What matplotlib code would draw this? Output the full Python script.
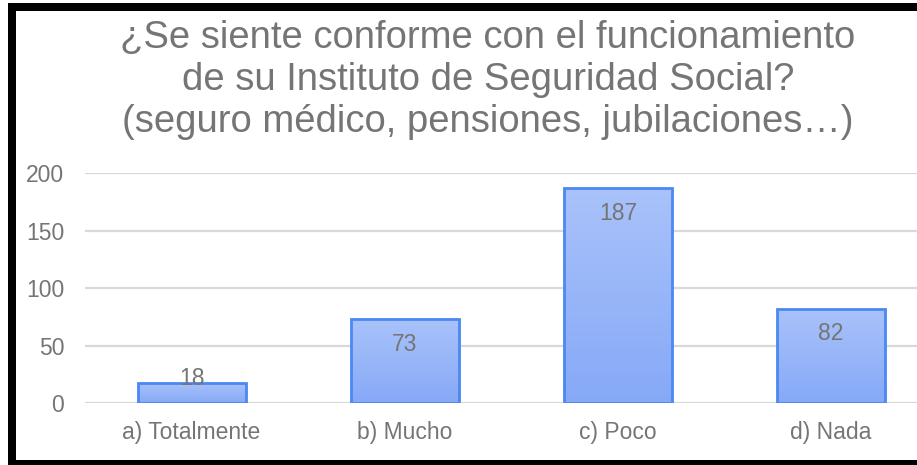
import matplotlib
matplotlib.use("Agg")
import matplotlib.pyplot as plt
import numpy as np
from matplotlib.colors import LinearSegmentedColormap
from matplotlib.patches import Rectangle

title = "¿Se siente conforme con el funcionamiento\nde su Instituto de Seguridad Social?\n(seguro médico, pensiones, jubilaciones…)"
categories = ["a) Totalmente", "b) Mucho", "c) Poco", "d) Nada"]
values = [18, 73, 187, 82]
yticks = [0, 50, 100, 150, 200]

plt.rcParams['font.family'] = ['Liberation Sans', 'DejaVu Sans']
text_gray = "#757575"

fig = plt.figure(figsize=(9.17, 4.65), dpi=100)
fig.patch.set_facecolor("white")

ax = fig.add_axes([85/917, (465-403.3)/465, (937.7-85)/917, (403.3-173.3)/465])
ax.set_facecolor("none")
for s in ax.spines.values():
    s.set_visible(False)
ax.set_yticks(yticks)
ax.set_yticklabels([str(t) for t in yticks], color=text_gray, fontsize=16.5)
ax.set_xticks(range(len(categories)))
ax.set_xticklabels(categories, color=text_gray, fontsize=16.5)
ax.tick_params(axis='y', length=0, pad=15)
ax.tick_params(axis='x', length=0, pad=12.5)
ax.grid(axis='y', color="#d9d9d9", linewidth=1.6, zorder=0)
ax.set_axisbelow(True)

cmap = LinearSegmentedColormap.from_list("g", ["#86a9f7", "#a9c2fa"])
grad = np.linspace(0, 1, 256).reshape(-1, 1)
bw = 0.507
bars = ax.bar(range(len(categories)), values, width=bw, facecolor="none",
              edgecolor="#4a88f2", linewidth=2, zorder=3)
for b, v in zip(bars, values):
    x0 = b.get_x()
    im = ax.imshow(grad, extent=(x0, x0 + bw, 0, v), origin='lower', cmap=cmap,
                   aspect='auto', zorder=2)
    clip = Rectangle((x0, 0), bw, v, transform=ax.transData)
    im.set_clip_path(clip)
ax.set_xlim(-0.5, len(categories) - 0.5)
ax.set_ylim(0, 200)

for i, v in enumerate(values):
    off = -25 if v > 40 else 4
    ax.annotate(str(v), (i, v), xytext=(0, off), textcoords='offset pixels',
                ha='center', va='center', color=text_gray, fontsize=16.5, zorder=4)

fig.text(488/917, 1 - 80/465, title, ha='center', va='center',
         color=text_gray, fontsize=27.5, linespacing=1.23)

# black frame (left, top, bottom)
fig.patches.append(Rectangle((8/917, 0), 8/917, 1 - 3/465, transform=fig.transFigure,
                             facecolor="black", edgecolor="none"))
fig.patches.append(Rectangle((8/917, 1 - 11/465), 1, 8/465, transform=fig.transFigure,
                             facecolor="black", edgecolor="none"))
fig.patches.append(Rectangle((8/917, 0), 1, 5/465, transform=fig.transFigure,
                             facecolor="black", edgecolor="none"))

fig.savefig("out.png", dpi=100)
